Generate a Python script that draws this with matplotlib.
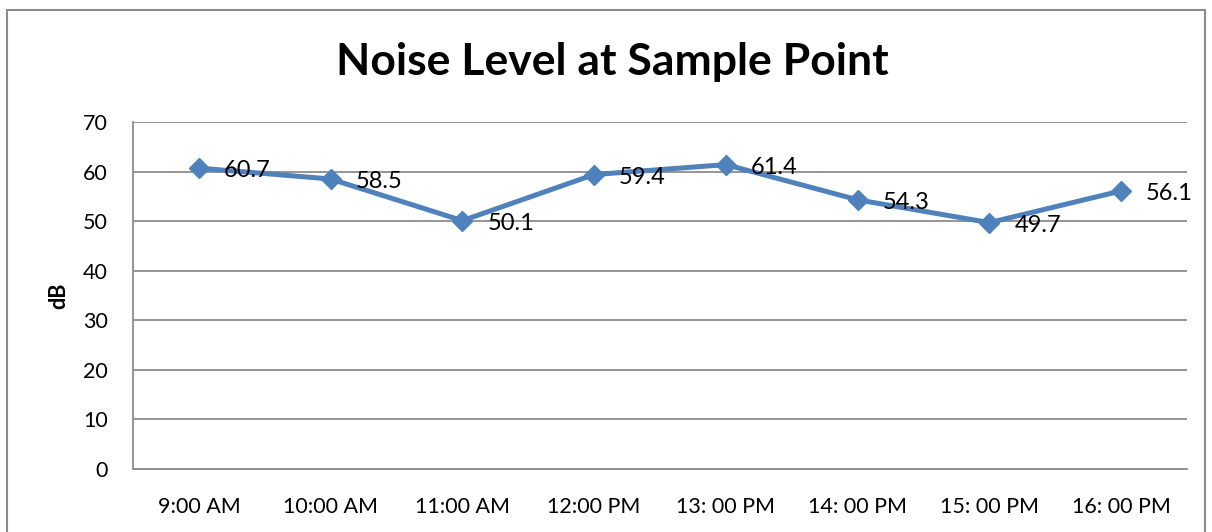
import matplotlib.pyplot as plt
from matplotlib.patches import Rectangle

plt.rcParams['font.family'] = ['Lato', 'DejaVu Sans']

times = ['9:00 AM', '10:00 AM', '11:00 AM', '12:00 PM',
         '13: 00 PM', '14: 00 PM', '15: 00 PM', '16: 00 PM']
noise_db = [60.7, 58.5, 50.1, 59.4, 61.4, 54.3, 49.7, 56.1]
y_ticks = [0, 10, 20, 30, 40, 50, 60, 70]

fig = plt.figure(figsize=(12.12, 5.32), dpi=100)
ax = fig.add_axes([133 / 1212, 1 - 469 / 532, 1054 / 1212, 347 / 532])

# chart frame (runs off the bottom of the figure)
fig.patches.append(Rectangle((7 / 1212, -0.05), 1198 / 1212, 1.05 - 10 / 532,
                             transform=fig.transFigure, fill=False,
                             edgecolor='#8c8c8c', linewidth=1.5))

x = list(range(len(times)))
ax.plot(x, noise_db, color='#4f81bd', linewidth=3.6, marker='D',
        markersize=10, zorder=3)

for xi, v in zip(x, noise_db):
    ax.annotate(f'{v}', (xi, v), xytext=(18, -2), textcoords='offset points',
                ha='left', va='center', fontsize=17, zorder=4)

ax.set_xlim(-0.5, len(times) - 0.5)
ax.set_ylim(0, 70)
ax.set_yticks(y_ticks)
ax.set_xticks(x)
ax.set_xticklabels(times)
ax.tick_params(axis='both', length=0, labelsize=15.5)
ax.tick_params(axis='y', pad=18)
ax.tick_params(axis='x', pad=20)
ax.grid(axis='y', color='#8c8c8c', linewidth=1.3)
ax.set_axisbelow(True)
for side in ['top', 'right']:
    ax.spines[side].set_visible(False)
for side in ['left', 'bottom']:
    ax.spines[side].set_color('#8c8c8c')
    ax.spines[side].set_linewidth(1.3)

ax.set_ylabel('dB', fontsize=15.5, fontweight='bold', labelpad=10)
fig.text(612 / 1212, 1 - 62 / 532, 'Noise Level at Sample Point',
         ha='center', va='center', fontsize=32, fontweight='bold')

fig.savefig('out.png', dpi=100)
